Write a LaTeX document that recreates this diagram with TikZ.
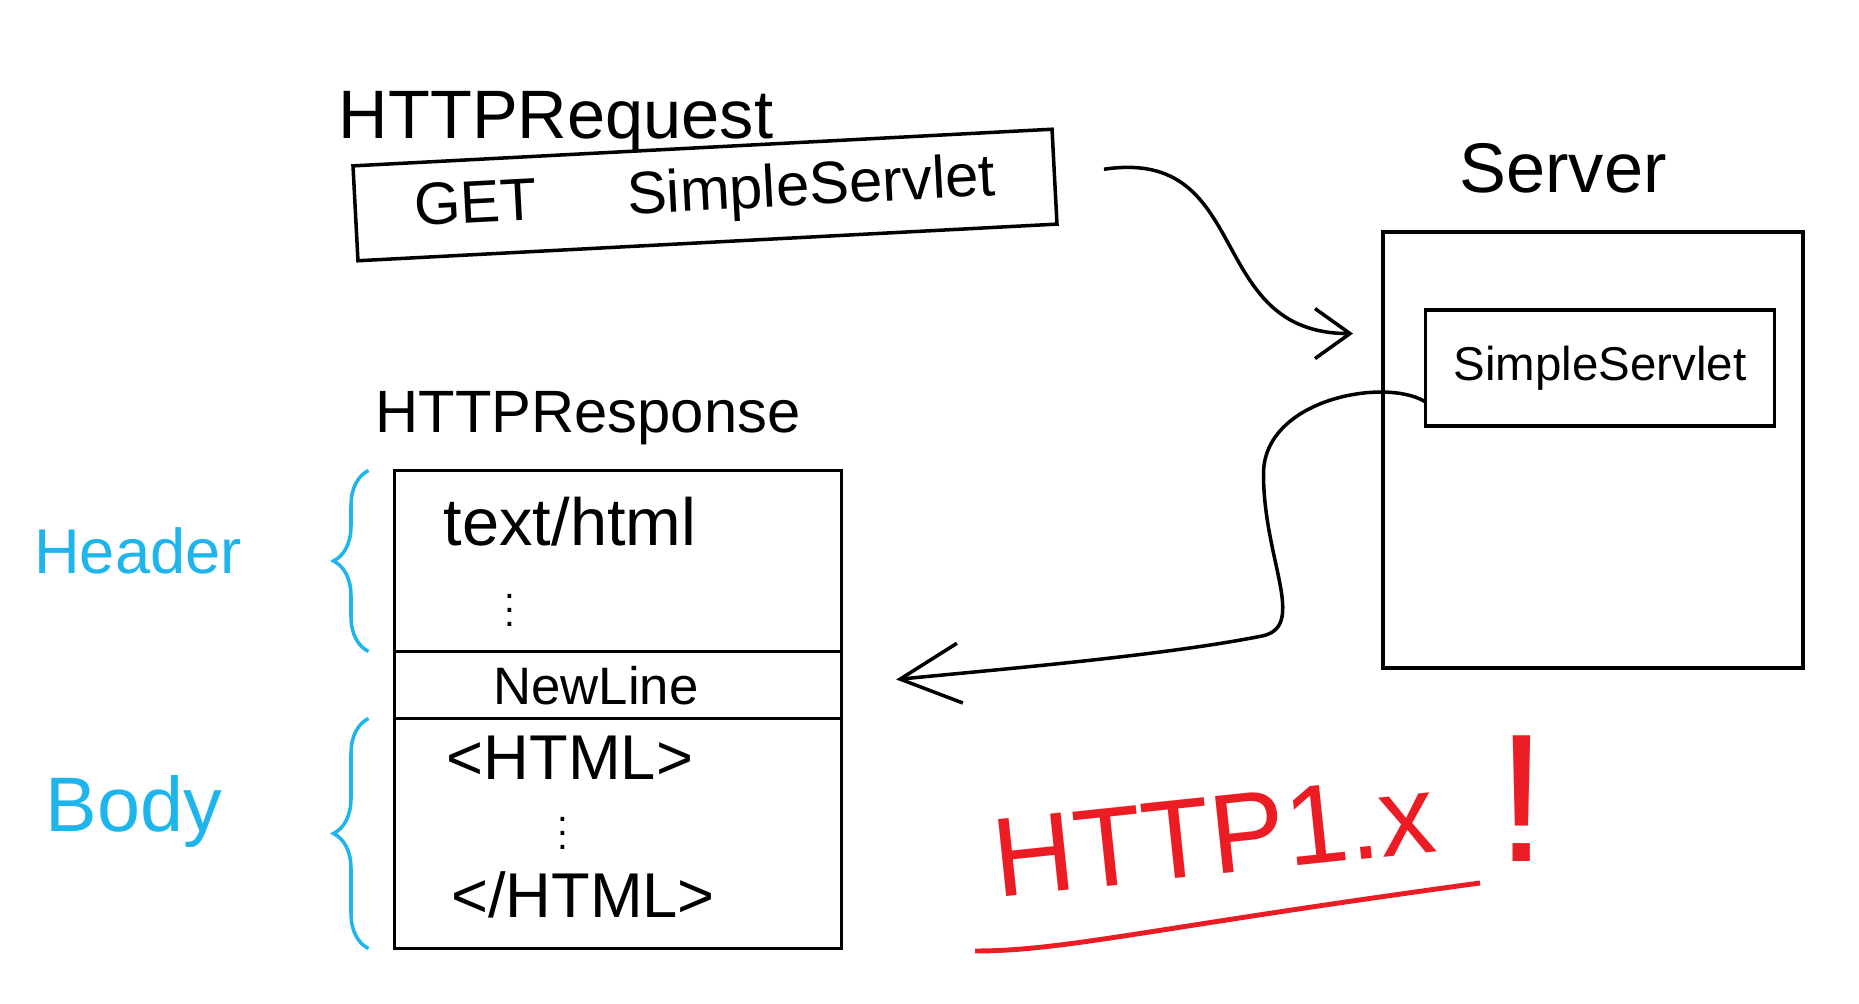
\documentclass[tikz,border=0pt]{standalone}
\usepackage{fontspec}
\setmainfont{Liberation Sans}
\usepackage{xcolor}
\usepackage{tikz}
\usetikzlibrary{positioning, arrows.meta, decorations.pathreplacing}
\definecolor{penblue}{HTML}{1DB5EC}
\definecolor{penred}{HTML}{EC1C24}

\newcommand{\fs}[1]{\fontsize{#1}{#1}\selectfont}

\begin{document}
\begin{tikzpicture}[x=0.1mm, y=-0.1mm, line width=1pt, inner sep=0pt,
    box/.style={draw, outer sep=0pt},
    sketcharrow/.style={-{Straight Barb[length=3.5mm, width=5mm]}},
    bigarrow/.style={-{Straight Barb[length=6mm, width=6mm]}},
    bluebrace/.style={penblue, decorate, decoration={brace, amplitude=3.5mm}}]
  \useasboundingbox (0,0) rectangle (1859,1004);

  % request
  \node[font=\fs{19.5}] (reqlabel) at (556,122) {HTTPRequest};
  \node[box, rotate=3, minimum width=70mm, minimum height=9.5mm,
        font=\fs{17}] (reqbox) at (705,195) {GET\hspace{9mm}SimpleServlet};

  % server
  \node[font=\fs{20}] (serverlabel) at (1563,168) {Server};
  \node[box, minimum width=42mm, minimum height=43.6mm] (serverbox) at (1593,450) {};
  \node[box, minimum width=34.9mm, minimum height=11.6mm,
        font=\fs{13.5}] (servlet) at (1600,368) {SimpleServlet};

  % response
  \node[font=\fs{17}] (resplabel) at (588,418) {HTTPResponse};
  \node[box, minimum width=44.7mm, minimum height=18.1mm] (resphead) at (618,561) {};
  \node[box, minimum width=44.7mm, minimum height=6.7mm,
        below=0pt of resphead] (respnl) {};
  \node[box, minimum width=44.7mm, minimum height=23mm,
        below=0pt of respnl] (respbody) {};
  \node[font=\fs{19}] (ctype) at (570,522) {text/html};
  \node[font=\fs{11}] (headdots) at (510,600) {$\vdots$};
  \node[font=\fs{15}] (newline) at (596,686) {NewLine};
  \node[font=\fs{18}] (htmlopen) at (570,758) {<HTML>};
  \node[font=\fs{11}] (bodydots) at (563,823) {$\vdots$};
  \node[font=\fs{18}] (htmlclose) at (583,895) {</HTML>};

  \draw[bluebrace] ([xshift=-2.6mm]resphead.south west) -- ([xshift=-2.6mm]resphead.north west)
    node[midway, left=12.5mm, yshift=1mm, font=\fs{18}, text=penblue] (headerlabel) {Header};
  \draw[bluebrace] ([xshift=-2.6mm]respbody.south west) -- ([xshift=-2.6mm]respbody.north west)
    node[midway, left=14.5mm, yshift=2.2mm, font=\fs{22}, text=penblue] (bodylabel) {Body};

  % arrows
  \draw[sketcharrow, shorten <=5mm, shorten >=3mm]
    (reqbox.east) .. controls +(200,-30) and +(-180,0) .. (serverbox.151);
  \draw[bigarrow, shorten >=5.5mm]
    (servlet.191) .. controls +(-40,-25) and +(0,-75) .. ++(-162,72)
    .. controls +(0,86) and +(45,-10) .. ++(-1,162)
    .. controls +(-100,20) and +(150,-15) .. (respnl.east);

  % note
  \node[rotate=6, font=\fs{32}, text=penred] (version) at (1214,836) {HTTP1.x};
  \node[font=\fs{52}, text=penred] (bang) at (1522,799) {!};
  \draw[penred, line width=1.4pt]
    ([shift={(-239,115)}]version.center) .. controls +(90,0) and +(-330,45)
    .. ([shift={(266,47)}]version.center);
\end{tikzpicture}
\end{document}
